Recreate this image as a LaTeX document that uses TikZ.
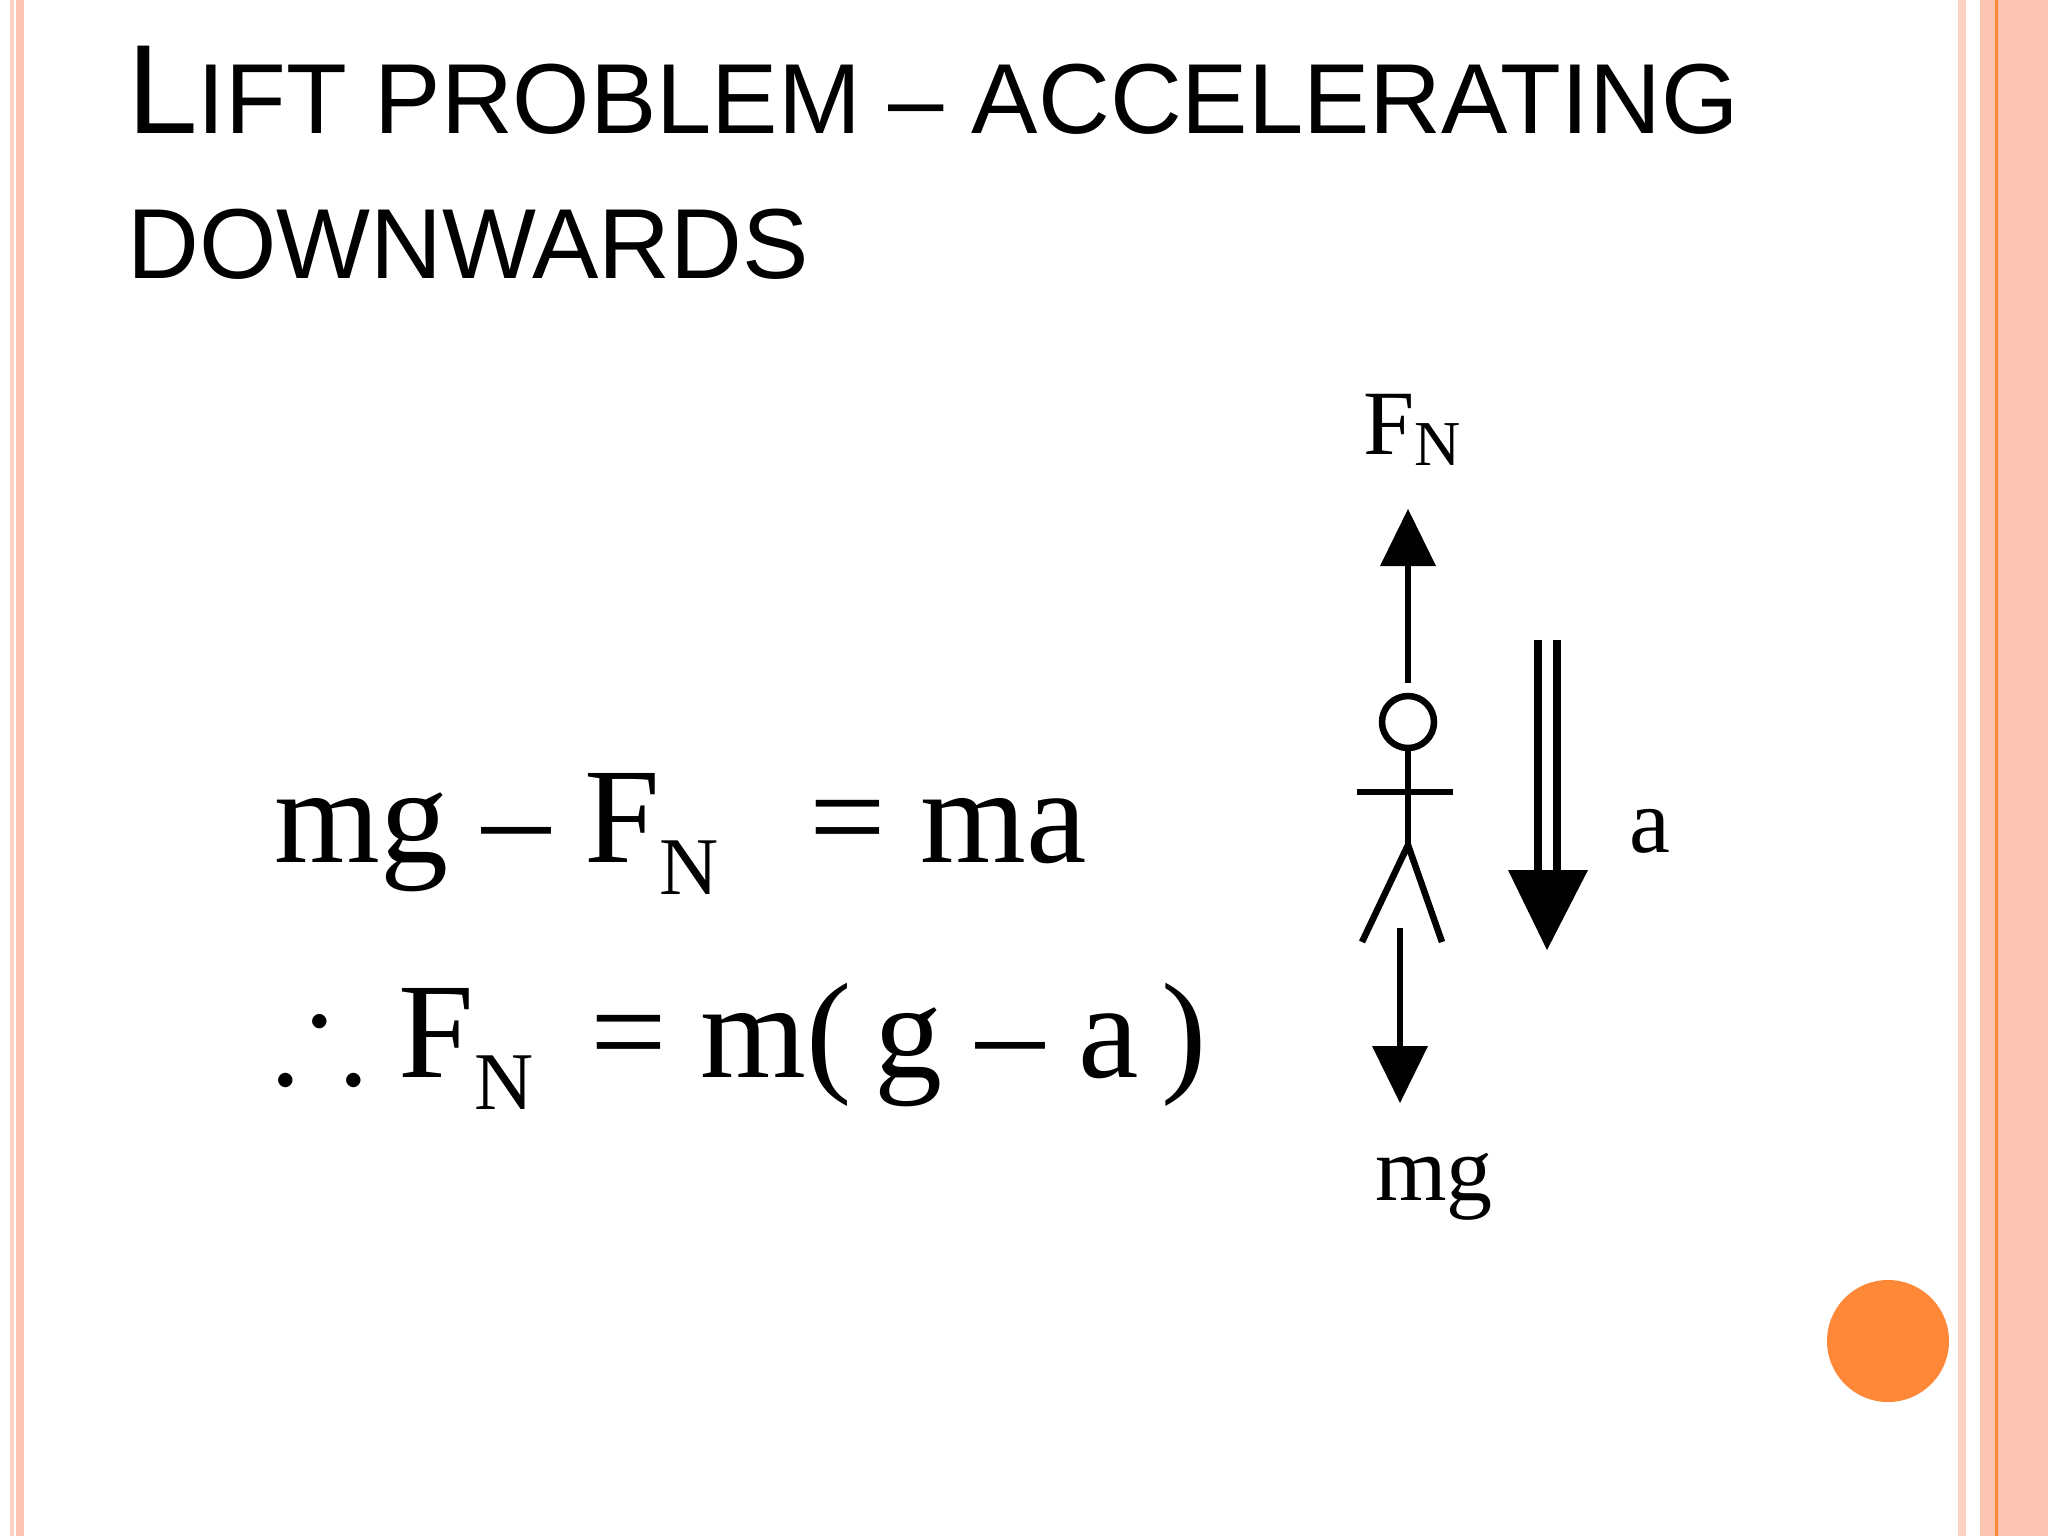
\documentclass[tikz,border=0pt]{standalone}
\usepackage{amssymb}
\usepackage{fontspec}
\setmainfont{Liberation Serif}
\newfontfamily\titlefont{Liberation Sans}
\newcommand{\sbN}[1]{\raisebox{-0.24em}{\fontsize{#1}{#1}\selectfont N}}
\definecolor{salmon}{RGB}{252,196,178}
\definecolor{salmonlt}{RGB}{253,210,195}
\definecolor{dotor}{RGB}{255,136,56}
\begin{document}
\begin{tikzpicture}[x=1pt,y=-1pt,
  ttl/.style={anchor=base west,inner sep=0pt,font=\titlefont},
  eqn/.style={anchor=base west,inner sep=0pt,font=\fontsize{136}{150}\selectfont},
  lbl/.style={anchor=base,inner sep=0pt,font=\fontsize{92}{100}\selectfont},
  stick/.style={line width=6.5pt},
  tri/.style={fill=black}]
\useasboundingbox (0,0) rectangle (2048,1536);
\fill[white] (0,0) rectangle (2048,1536);
% borders
\fill[salmonlt] (10,0) rectangle (14,1536);
\fill[salmon] (16,0) rectangle (24,1536);
\fill[salmonlt] (1958,0) rectangle (1966,1536);
\fill[salmon] (1980,0) rectangle (1995,1536);
\fill[dotor] (1995,0) rectangle (1998,1536);
\fill[salmon] (1998,0) rectangle (2048,1536);
% title
\node[ttl] (t1) at (127,134) {\fontsize{127}{130}\selectfont L\fontsize{99.5}{100}\selectfont IFT PROBLEM – ACCELERATING};
\node[ttl] (t2) at (127,278) {\fontsize{99.5}{100}\selectfont DOWNWARDS};
% equations
\node[eqn] (e1) at (274,862) {mg – F\sbN{82}\ \ \,= ma};
\node[eqn] (e2) at (274,1077) {$\therefore$ F\sbN{82}\ \,= m(\,g – a\,)};
% figure
\node[lbl] (fn) at (1412,454) {F\raisebox{-0.12em}{\fontsize{64}{64}\selectfont N}};
\node[lbl] (mg) at (1434,1200) {mg};
\node[lbl] (al) at (1650,852) {a};
\node[draw,circle,line width=6.5pt,minimum size=52pt,inner sep=0pt] (head) at (1408,722) {};
\coordinate (hip) at (1408,845);
\coordinate (armL) at (1357,792);
\coordinate (armR) at (1453,792);
\coordinate (legL) at (1362,942);
\coordinate (legR) at (1442,942);
\draw[stick] (head.south) -- (hip);
\draw[stick] (armL) -- (armR);
\draw[stick] (legL) -- (hip) -- (legR);
% up arrow
\coordinate (upb) at (1408,683);
\coordinate (upt) at (1408,509);
\draw[stick] (upb) -- (1408,560);
\fill[tri] (upt) -- (1436,566) -- (1380,566) -- cycle;
% down arrow mg
\coordinate (dnb) at (1400,928);
\coordinate (dnt) at (1400,1103);
\draw[stick] (dnb) -- (1400,1050);
\fill[tri] (dnt) -- (1372,1046) -- (1428,1046) -- cycle;
% acceleration arrow
\coordinate (ab) at (1547,640);
\coordinate (at2) at (1547,950);
\draw[line width=8pt] (1538,640) -- (1538,872);
\draw[line width=8pt] (1557,640) -- (1557,872);
\fill[tri] (1508,870) -- (1588,870) -- (at2) -- cycle;
% orange dot
\fill[dotor] (1888,1341) circle (61);
\end{tikzpicture}
\end{document}
